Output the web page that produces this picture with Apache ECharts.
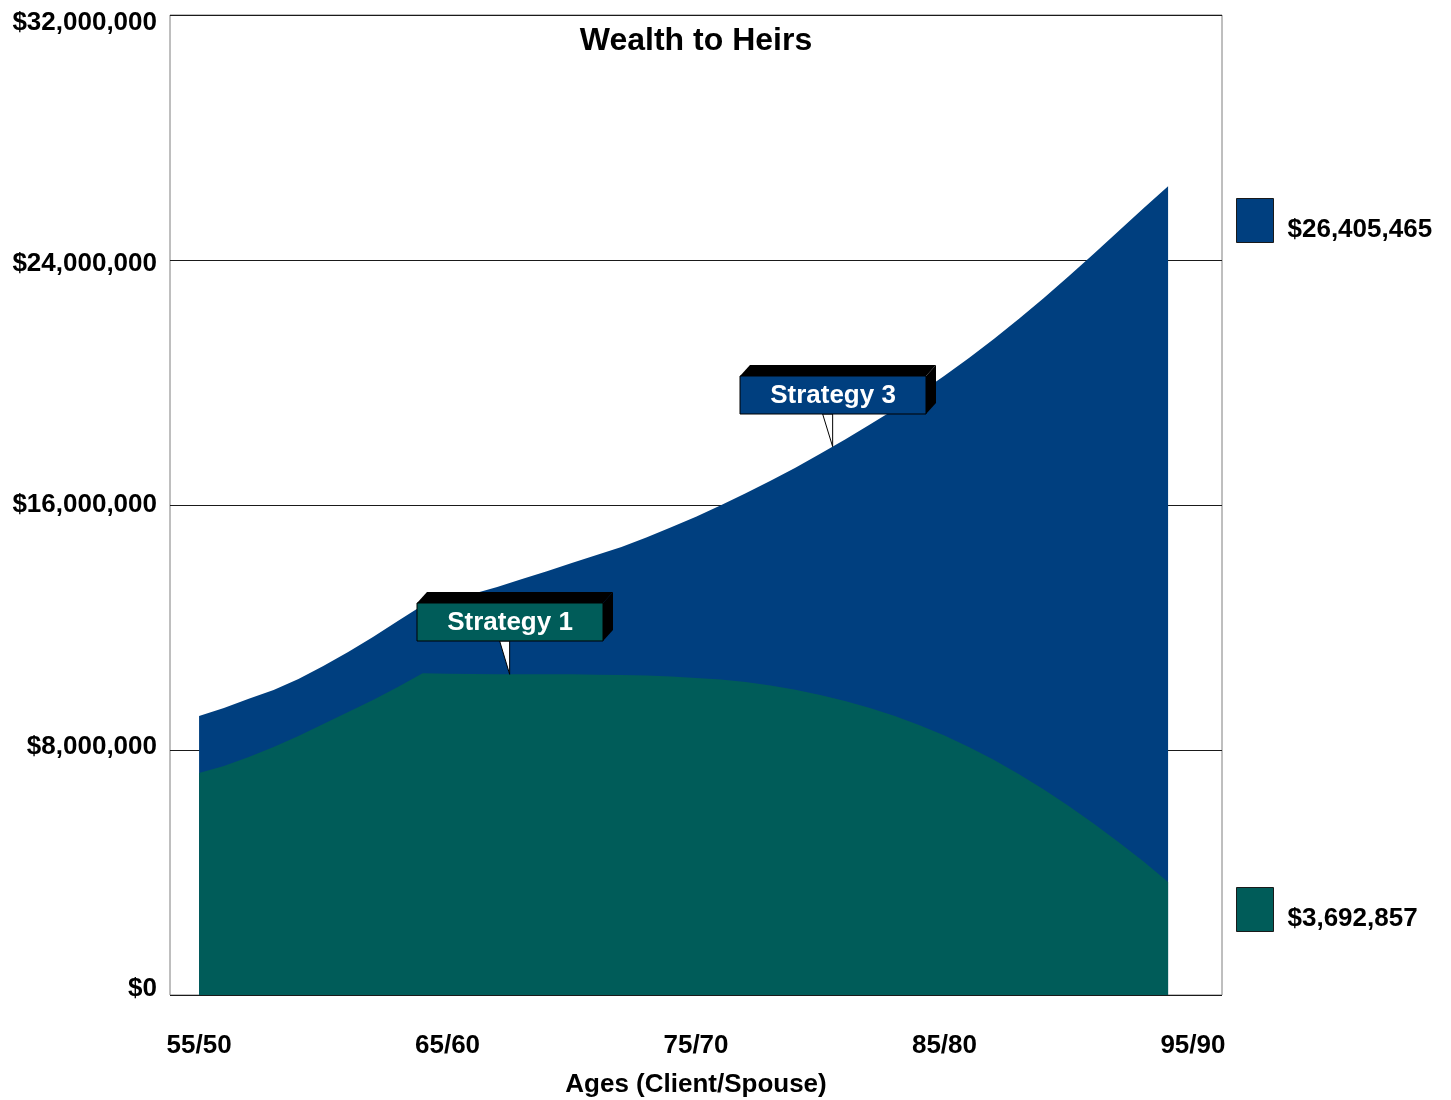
<!DOCTYPE html>
<html>
<head>
<meta charset="utf-8">
<title>Wealth to Heirs</title>
<script src="https://cdn.jsdelivr.net/npm/echarts@6/dist/echarts.min.js"></script>
<style>
  html, body { margin: 0; padding: 0; background: #ffffff; }
  #chart { width: 1451px; height: 1100px; }
</style>
</head>
<body>
<div id="chart"></div>
<script>
// Client age at each projection year (spouse is five years younger)
const ages = [55, 56, 57, 58, 59, 60, 61, 62, 63, 64,
              65, 66, 67, 68, 69, 70, 71, 72, 73, 74,
              75, 76, 77, 78, 79, 80, 81, 82, 83, 84,
              85, 86, 87, 88, 89, 90, 91, 92, 93, 94];

// Wealth passed to heirs under each strategy, in dollars
const strategy3 = [9110000, 9370000, 9670000, 9960000, 10320000, 10740000, 11200000, 11690000, 12210000, 12730000,
                   12870000, 13090000, 13320000, 13580000, 13840000, 14110000, 14370000, 14630000, 14940000, 15270000,
                   15620000, 15990000, 16380000, 16790000, 17220000, 17670000, 18140000, 18630000, 19130000, 19660000,
                   20220000, 20810000, 21430000, 22080000, 22760000, 23470000, 24200000, 24940000, 25680000, 26405465];
const strategy1 = [7250000, 7480000, 7770000, 8100000, 8460000, 8850000, 9240000, 9630000, 10060000, 10510000,
                   10490000, 10480000, 10470000, 10470000, 10470000, 10470000, 10460000, 10450000, 10430000, 10400000,
                   10350000, 10300000, 10220000, 10110000, 9970000, 9800000, 9600000, 9370000, 9110000, 8810000,
                   8470000, 8090000, 7670000, 7210000, 6710000, 6170000, 5600000, 5000000, 4370000, 3692857];

// Age axis labels
const tickAges = [55, 65, 75, 85, 95];
const tickLabels = ['55/50', '65/60', '75/70', '85/80', '95/90'];

// Callout anchors along each curve
const callouts = [
  { name: 'Strategy 1', age: 67.5, values: strategy1 },
  { name: 'Strategy 3', age: 80.5, values: strategy3 }
];

const BLUE = '#003F7F';
const TEAL = '#005C59';
const FONT = "'Liberation Sans', Arial, Helvetica, sans-serif";

const money = v => '$' + Math.round(v).toLocaleString('en-US');
const pairs = vals => ages.map((a, i) => [a, vals[i]]);

// Dollar labels sit slightly closer together than their grid lines
const yLabelNudge = { 0: -6, 8000000: -3, 16000000: 0, 24000000: 4, 32000000: 8 };
const yLabelRich = {};
Object.keys(yLabelNudge).forEach(k => {
  const d = yLabelNudge[k];
  yLabelRich['v' + k] = {
    fontFamily: FONT, fontWeight: 'bold', fontSize: 26, color: '#000',
    padding: d >= 0 ? [2 * d, 0, 0, 0] : [0, 0, -2 * d, 0]
  };
});

const chart = echarts.init(document.getElementById('chart'), null, { renderer: 'canvas' });

const legendBase = {
  orient: 'vertical',
  left: 1236,
  padding: 0,
  itemWidth: 37,
  itemHeight: 44,
  itemGap: 0,
  selectedMode: false,
  icon: 'rect',
  itemStyle: { borderColor: '#1a1a1a', borderWidth: 1 },
  textStyle: {
    fontFamily: FONT, fontWeight: 'bold', fontSize: 26, color: '#000',
    rich: { amt: { fontFamily: FONT, fontWeight: 'bold', fontSize: 26, color: '#000', padding: [18, 0, 0, 9] } }
  }
};

chart.setOption({
  animation: false,
  backgroundColor: '#ffffff',
  title: {
    text: 'Wealth to Heirs',
    left: 696,
    textAlign: 'center',
    top: 25,
    padding: 0,
    textStyle: { fontFamily: FONT, fontWeight: 'bold', fontSize: 32, color: '#000' }
  },
  legend: [
    Object.assign({}, legendBase, {
      top: 198,
      data: ['Strategy 3'],
      formatter: () => '{amt|' + money(strategy3[strategy3.length - 1]) + '}'
    }),
    Object.assign({}, legendBase, {
      top: 887,
      data: ['Strategy 1'],
      formatter: () => '{amt|' + money(strategy1[strategy1.length - 1]) + '}'
    })
  ],
  grid: {
    left: 170, top: 15, width: 1052, height: 980,
    outerBoundsMode: 'none',
    containLabel: false,
    show: true, borderColor: '#7f7f7f', borderWidth: 1, backgroundColor: 'transparent'
  },
  xAxis: {
    type: 'value',
    min: 53.83,
    max: 96.17,
    axisLine: { show: false },
    axisTick: { show: false },
    splitLine: { show: false },
    axisLabel: {
      customValues: tickAges,
      margin: 38,
      fontFamily: FONT, fontWeight: 'bold', fontSize: 26, color: '#000',
      formatter: v => tickLabels[tickAges.indexOf(v)]
    },
    name: 'Ages (Client/Spouse)',
    nameLocation: 'middle',
    nameGap: 77,
    nameTextStyle: { fontFamily: FONT, fontWeight: 'bold', fontSize: 26, color: '#000' }
  },
  yAxis: {
    type: 'value',
    min: 0,
    max: 32000000,
    interval: 8000000,
    axisLine: { show: false },
    axisTick: { show: false },
    splitLine: { show: true, lineStyle: { color: '#1a1a1a', width: 1 } },
    axisLabel: {
      margin: 13,
      fontFamily: FONT, fontWeight: 'bold', fontSize: 26, color: '#000',
      rich: yLabelRich,
      formatter: v => '{v' + v + '|' + money(v) + '}'
    }
  },
  series: [
    {
      name: 'Strategy 3',
      type: 'line',
      data: pairs(strategy3),
      showSymbol: false,
      symbol: 'none',
      color: BLUE,
      lineStyle: { width: 0, color: BLUE },
      areaStyle: { color: BLUE, opacity: 1 },
      z: 2
    },
    {
      name: 'Strategy 1',
      type: 'line',
      data: pairs(strategy1),
      showSymbol: false,
      symbol: 'none',
      color: TEAL,
      lineStyle: { width: 0, color: TEAL },
      areaStyle: { color: TEAL, opacity: 1 },
      z: 3
    }
  ]
});

// Value of a series at a fractional age, read between its yearly points
function valueAt(age, values) {
  const i = Math.min(Math.floor(age - ages[0]), ages.length - 2);
  const t = age - ages[i];
  return values[i] + (values[i + 1] - values[i]) * t;
}

// Boxed labels with a 3-D edge and a pointer to the curve
const BOX_W = 186, BOX_H = 38, DEPTH_X = 10, DEPTH_Y = 11;
const elements = [];
callouts.forEach(c => {
  const color = c.values === strategy1 ? TEAL : BLUE;
  const [tx, ty] = chart.convertToPixel({ gridIndex: 0 }, [c.age, valueAt(c.age, c.values)]);
  const left = Math.round(tx) - 93;
  const right = left + BOX_W;
  const bottom = Math.round(ty) - 33;
  const top = bottom - BOX_H;
  elements.push(
    { type: 'polygon', z: 100, shape: { points: [[tx - 10, bottom], [tx, bottom], [tx, ty]] },
      style: { fill: '#ffffff', stroke: '#000', lineWidth: 1 } },
    { type: 'polygon', z: 100, shape: { points: [[left, top], [left + DEPTH_X, top - DEPTH_Y], [right + DEPTH_X, top - DEPTH_Y], [right, top]] },
      style: { fill: '#000' } },
    { type: 'polygon', z: 100, shape: { points: [[right, top], [right + DEPTH_X, top - DEPTH_Y], [right + DEPTH_X, bottom - DEPTH_Y], [right, bottom]] },
      style: { fill: '#000' } },
    { type: 'rect', z: 101, shape: { x: left, y: top, width: BOX_W, height: BOX_H },
      style: { fill: color, stroke: '#000', lineWidth: 1 } },
    { type: 'text', z: 102, style: { text: c.name, x: left + BOX_W / 2, y: top + BOX_H / 2 + 1,
      align: 'center', verticalAlign: 'middle', fill: '#ffffff',
      font: 'bold 26px ' + FONT } }
  );
});
chart.setOption({ graphic: elements });
</script>
</body>
</html>
